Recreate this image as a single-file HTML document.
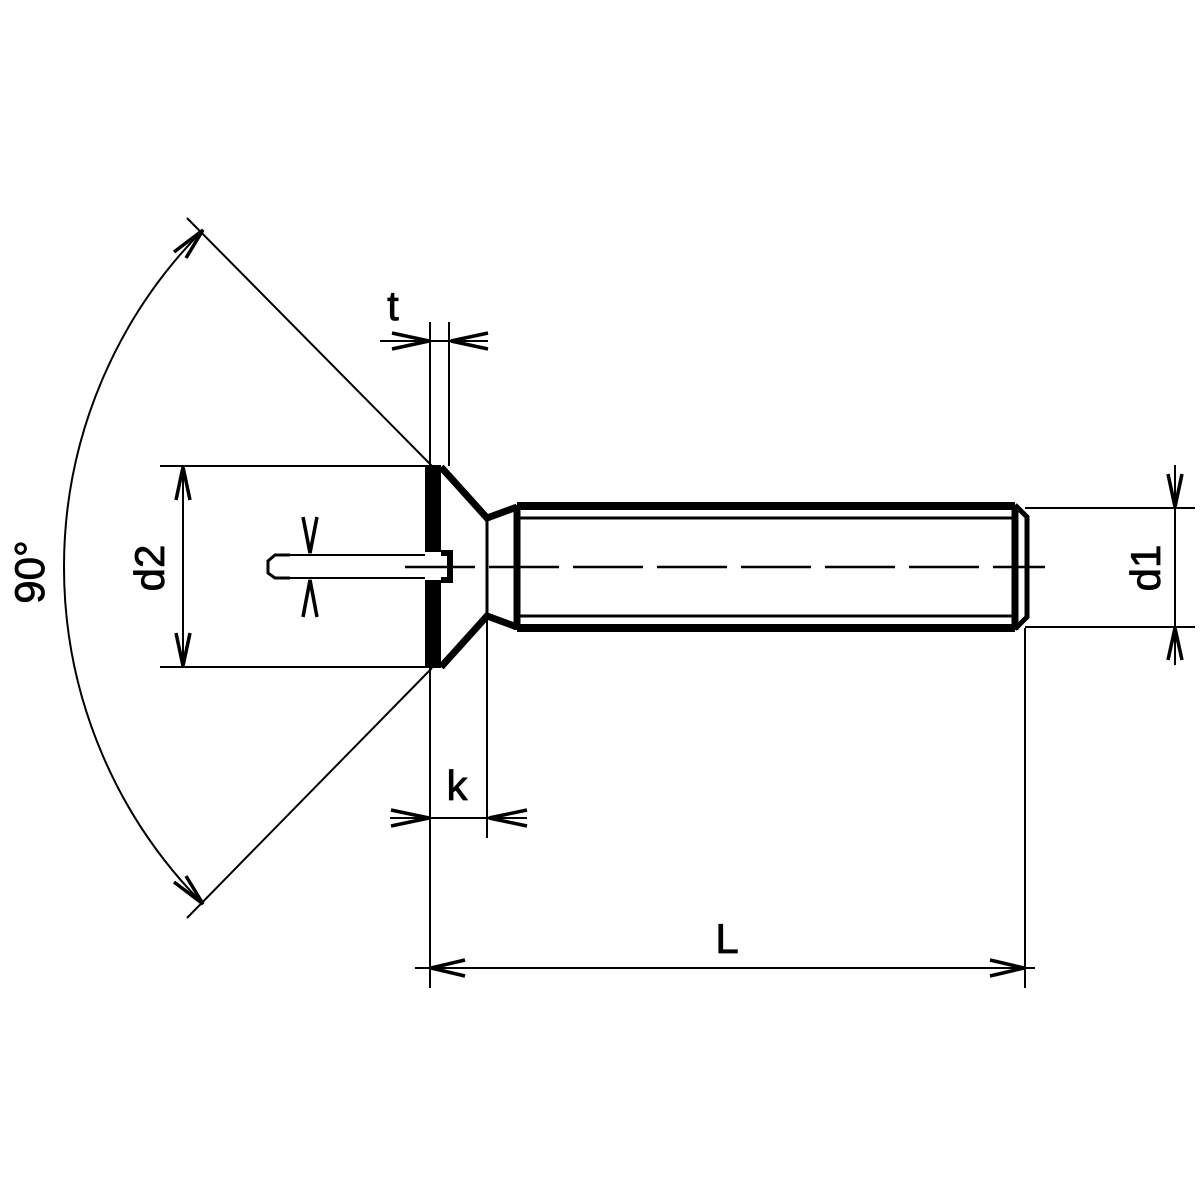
<!DOCTYPE html>
<html><head><meta charset="utf-8"><style>html,body{margin:0;padding:0;background:#fff}svg{display:block}</style></head>
<body>
<svg width="1200" height="1200" viewBox="0 0 1200 1200" xmlns="http://www.w3.org/2000/svg" font-family="Liberation Sans, sans-serif">
<rect width="1200" height="1200" fill="#fff"/>
<g stroke="#000" fill="none" stroke-width="2">
<line x1="187" y1="218" x2="432" y2="466"/>
<line x1="432" y1="668" x2="187" y2="918"/>
<path d="M203,230 A478,478 0 0 0 203,904"/>
<line x1="160" y1="466" x2="430" y2="466"/>
<line x1="160" y1="667" x2="430" y2="667"/>
<line x1="183" y1="466" x2="183" y2="667"/>
<line x1="430" y1="322" x2="430" y2="466"/>
<line x1="449" y1="322" x2="449" y2="466"/>
<line x1="380" y1="341" x2="488" y2="341"/>
<line x1="430" y1="668" x2="430" y2="988"/>
<line x1="487" y1="520" x2="487" y2="838"/>
<line x1="390" y1="818" x2="527" y2="818"/>
<line x1="1025" y1="628" x2="1025" y2="988"/>
<line x1="415" y1="968" x2="1035" y2="968"/>
<line x1="1025" y1="508" x2="1195" y2="508"/>
<line x1="1025" y1="627" x2="1195" y2="627"/>
<line x1="1175" y1="465" x2="1175" y2="665"/>
<line x1="290" y1="555" x2="425" y2="555"/>
<line x1="290" y1="578" x2="425" y2="578"/>
<path d="M290,555 H275 L268,561 V573 L275,578 H290" stroke-width="3"/>
<path d="M405,567 H1045" stroke-dasharray="70,14" stroke-width="2.5"/>
</g>
<g stroke="#000" fill="none" stroke-width="3.5">
<path d="M174,252 L203,230 L186,258"/>
<path d="M174,882 L203,904 L186,876"/>
<path d="M176,500 L183,467 L190,500"/>
<path d="M176,633 L183,666 L190,633"/>
<path d="M392,333 L429,341 L392,349"/>
<path d="M488,333 L451,341 L488,349"/>
<path d="M391,810 L429,818 L391,826"/>
<path d="M527,810 L489,818 L527,826"/>
<path d="M465,960 L431,968 L465,976"/>
<path d="M990,960 L1024,968 L990,976"/>
<path d="M1168,474 L1175,507 L1182,474"/>
<path d="M1168,660 L1175,628 L1182,660"/>
<path d="M303,517 L310,553 L317,517"/>
<path d="M303,617 L310,580 L317,617"/>
</g>
<g stroke="#000" fill="none">
<path d="M433,465 V552 M433,580 V668" stroke-width="16"/>
<path d="M441,553 H450 V580 H441" stroke-width="6"/>
<path d="M441,467 L487,518 L517,507 M441,667 L487,616 L517,627" stroke-width="7"/>
<line x1="487" y1="518" x2="487" y2="616" stroke-width="3"/>
<line x1="517" y1="505" x2="517" y2="630" stroke-width="7"/>
<line x1="517" y1="506" x2="1015" y2="506" stroke-width="8"/>
<line x1="517" y1="628" x2="1015" y2="628" stroke-width="8"/>
<line x1="517" y1="518" x2="1015" y2="518" stroke-width="3"/>
<line x1="517" y1="616" x2="1015" y2="616" stroke-width="3"/>
<line x1="1015" y1="505" x2="1015" y2="630" stroke-width="7"/>
<path d="M1015,505 L1027,517 V617 L1015,629" stroke-width="5"/>
</g>
<g font-size="42" fill="#000" stroke="#000" stroke-width="0.8">
<text x="393" y="320" text-anchor="middle">t</text>
<text x="457" y="800" text-anchor="middle">k</text>
<text x="727" y="953" text-anchor="middle">L</text>
<text transform="translate(164,568) rotate(-90)" text-anchor="middle">d2</text>
<text transform="translate(1160,568) rotate(-90)" text-anchor="middle">d1</text>
<text transform="translate(44,572) rotate(-90)" text-anchor="middle">90°</text>
</g>
</svg>
</body></html>
